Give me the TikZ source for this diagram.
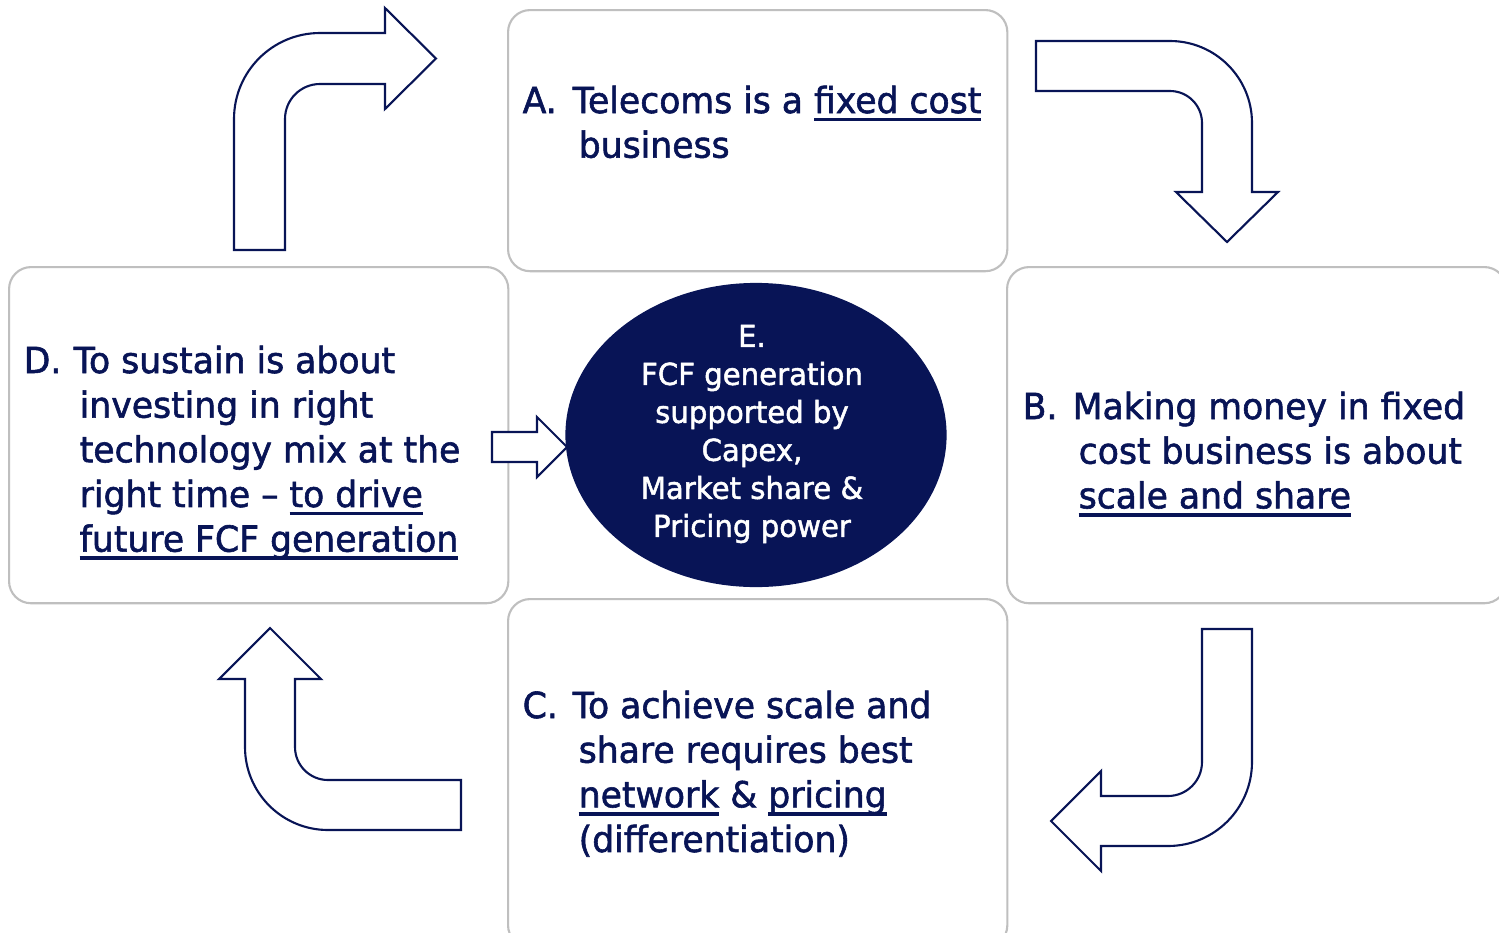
\documentclass[tikz,border=0pt]{standalone}
\usepackage{fontspec}
\setmainfont{DejaVu Sans}[FakeStretch=0.965, FakeBold=1.6]
\usetikzlibrary{shapes.geometric}
\definecolor{navy}{RGB}{8,20,86}
\definecolor{rim}{RGB}{191,191,191}
% underline that sits just under the baseline
\newsavebox\ulbox
\newcommand\uln[1]{\sbox\ulbox{#1}\rlap{\rule[-2.4pt]{\wd\ulbox}{1.1pt}}\usebox\ulbox}
% item with a hanging indent: label, then the lines
\newcommand\point[2]{\parbox[t]{4.9cm}{\hangindent=0.56cm\hangafter=1
  \noindent\makebox[0.5cm][l]{#1}#2}}
\tikzset{
  card/.style={draw=rim, line width=0.6pt, fill=white, rounded corners=0.22cm,
    anchor=north west, inner sep=0pt, minimum width=4.99cm},
  cardtext/.style={anchor=base west, inner sep=0pt, text=navy,
    font={\fontsize{10.2}{12.7}\selectfont}},
  hubtext/.style={inner sep=0pt, text=white, align=center,
    font={\fontsize{8.6}{10.8}\selectfont}},
  bent/.style={draw=navy, line width=0.6pt, fill=white, line join=miter},
}
\begin{document}
\begin{tikzpicture}[x=0.01cm,y=-0.01cm]
	\useasboundingbox (0,0) rectangle (1499,933);
	% the four cards round the hub
	\node[card, minimum height=2.61cm] (boxA) at (507,9) {};
	\node[card, minimum height=3.36cm] (boxB) at (1006,266) {};
	\node[card, minimum height=3.48cm] (boxC) at (507,598) {};
	\node[card, minimum height=3.36cm] (boxD) at (8,266) {};
	\node[ellipse, fill=navy, inner sep=0pt, minimum width=3.81cm, minimum height=3.04cm] (hub) at (756,435) {};
	% texts
	\node[cardtext] (txtA) at (522,113) {\point{A.}{Telecoms is a \uln{fixed cost}\\
		business}};
	\node[cardtext] (txtB) at (1022,419) {\point{B.}{Making money in fixed\\
		cost business is about\\
		\uln{scale and share}}};
	\node[cardtext] (txtC) at (522,718) {\point{C.}{To achieve scale and\\
		share requires best\\
		\uln{network} \& \uln{pricing}\\
		(differentiation)}};
	\node[cardtext] (txtD) at (23,373) {\point{D.}{To sustain is about\\
		investing in right\\
		technology mix at the\\
		right time -- \uln{to drive}\\
		\uln{future FCF generation}}};
	\node[hubtext] (hubtxt) at (752,434) {E.\\FCF generation\\supported by\\Capex,\\Market share \&\\Pricing power};
	% bent arrows, D -> A -> B -> C -> D
	\draw[bent] (234,250) -- (234,119) arc[start angle=180, end angle=270, radius=86] -- (385,33) -- (385,8) -- (436,58.5) -- (385,109) -- (385,84) -- (320,84) arc[start angle=270, end angle=180, radius=35] -- (285,250) -- cycle;
	\draw[bent] (1036,41) -- (1170,41) arc[start angle=270, end angle=360, radius=82] -- (1252,192) -- (1278,192) -- (1227,242) -- (1176,192) -- (1202,192) -- (1202,123) arc[start angle=0, end angle=-90, radius=32] -- (1036,91) -- cycle;
	\draw[bent] (1202,629) -- (1252,629) -- (1252,762) arc[start angle=0, end angle=90, radius=84] -- (1101,846) -- (1101,871) -- (1051,821) -- (1101,771) -- (1101,796) -- (1168,796) arc[start angle=90, end angle=0, radius=34] -- cycle;
	\draw[bent] (461,780) -- (461,830) -- (328,830) arc[start angle=90, end angle=180, radius=83] -- (245,679) -- (219,679) -- (270,628) -- (321,679) -- (295,679) -- (295,747) arc[start angle=180, end angle=90, radius=33] -- cycle;
	% into the hub
	\draw[bent] (492,432) -- (537,432) -- (537,417) -- (567,447) -- (537,477) -- (537,462) -- (492,462) -- cycle;
\end{tikzpicture}
\end{document}
